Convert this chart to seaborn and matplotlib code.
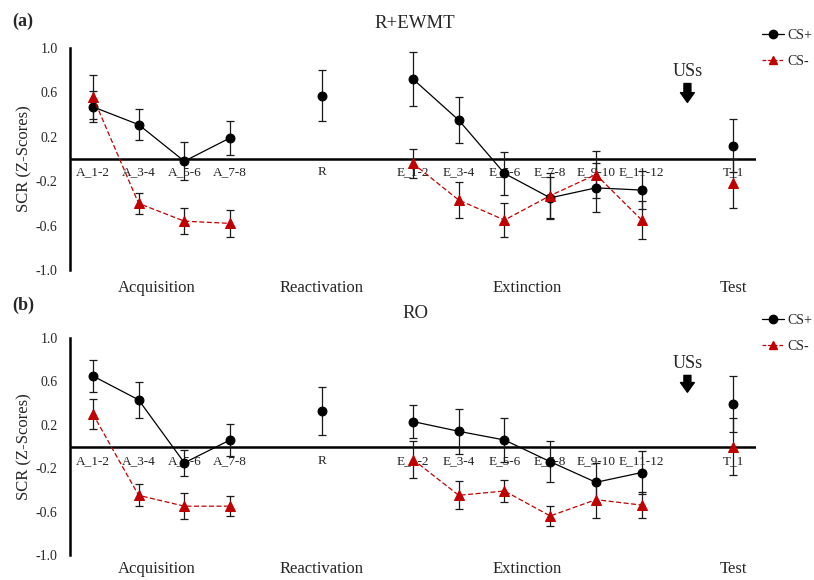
import numpy as np
import pandas as pd
import matplotlib
matplotlib.use("Agg")
import matplotlib.pyplot as plt
from matplotlib.lines import Line2D
import seaborn as sns

nan = np.nan

# x categories (blank slots leave gaps between phases)
categories = ["A_1-2", "A_3-4", "A_5-6", "A_7-8", "", "R", "", "E_1-2", "E_3-4",
              "E_5-6", "E_7-8", "E_9-10", "E_11-12", "", "T_1"]
phase_of = ["Acquisition"] * 4 + [""] + ["Reactivation"] + [""] + ["Extinction"] * 6 + [""] + ["Test"]
phase_names = ["Acquisition", "Reactivation", "Extinction", "Test"]
phase_centers = [1.4, 5, 9.5, 14]
uss_slot = 13

# (a) R+EWMT
a_csp = [0.47, 0.31, -0.02, 0.19, nan, 0.57, nan, 0.72, 0.35, -0.13, -0.35, -0.26, -0.28, nan, 0.12]
a_csp_err = [0.14, 0.14, 0.17, 0.15, nan, 0.23, nan, 0.24, 0.21, 0.19, 0.19, 0.22, 0.17, nan, 0.24]
a_csm = [0.56, -0.40, -0.56, -0.58, nan, nan, nan, -0.04, -0.37, -0.55, -0.33, -0.14, -0.55, nan, -0.22]
a_csm_err = [0.20, 0.095, 0.12, 0.12, nan, nan, nan, 0.13, 0.16, 0.15, 0.20, 0.21, 0.17, nan, 0.22]

# (b) RO
b_csp = [0.65, 0.43, -0.15, 0.06, nan, 0.33, nan, 0.23, 0.14, 0.06, -0.14, -0.33, -0.24, nan, 0.39]
b_csp_err = [0.15, 0.165, 0.12, 0.15, nan, 0.22, nan, 0.15, 0.21, 0.20, 0.19, 0.18, 0.20, nan, 0.26]
b_csm = [0.30, -0.45, -0.55, -0.55, nan, nan, nan, -0.12, -0.45, -0.41, -0.64, -0.49, -0.54, nan, 0.0]
b_csm_err = [0.14, 0.10, 0.12, 0.09, nan, nan, nan, 0.17, 0.13, 0.10, 0.09, 0.17, 0.12, nan, 0.26]

yticks = [-1.0, -0.6, -0.2, 0.2, 0.6, 1.0]

RED = "#C00000"

sns.set_style("white")
plt.rcParams["font.family"] = ["Liberation Serif", "DejaVu Serif"]
plt.rcParams["axes.unicode_minus"] = False


def to_frame(vals, errs):
    df = pd.DataFrame({"pos": np.arange(len(categories)), "val": vals, "err": errs, "phase": phase_of})
    return df.dropna(subset=["val"])


def draw_panel(ax, csp, csp_err, csm, csm_err, cat_off, phase_y, uss_y, arrow_y):
    dp = to_frame(csp, csp_err)
    dm = to_frame(csm, csm_err)

    for d in (dp, dm):
        ax.errorbar(d["pos"], d["val"], yerr=d["err"], fmt="none", ecolor="#1a1a1a",
                    elinewidth=0.9, capsize=2.8, capthick=0.9, zorder=3, clip_on=False)

    sns.lineplot(data=dp, x="pos", y="val", units="phase", estimator=None, sort=False,
                 color="black", lw=0.9, marker="o", markersize=6.4, markeredgecolor="black",
                 legend=False, ax=ax, zorder=4)
    sns.lineplot(data=dm, x="pos", y="val", units="phase", estimator=None, sort=False,
                 color=RED, lw=0.9, linestyle=(0, (4, 2)), marker="^", markersize=6.5,
                 markeredgecolor=RED, legend=False, ax=ax, zorder=5)

    ax.axhline(0, color="black", lw=1.8, zorder=2)
    ax.set_xlim(-0.5, len(categories) - 0.5)
    ax.set_ylim(-1, 1)
    ax.set_yticks(yticks)
    ax.set_yticklabels([f"{t:.1f}" for t in yticks], fontsize=10)
    ax.tick_params(axis="y", length=0, pad=9)
    ax.set_xticks([])
    ax.set_xlabel("")
    ax.set_ylabel("SCR (Z-Scores)", fontsize=12, labelpad=2)
    for s in ["top", "right", "bottom"]:
        ax.spines[s].set_visible(False)
    ax.spines["left"].set_linewidth(1.8)
    ax.spines["left"].set_color("black")

    for i, lab in enumerate(categories):
        if lab:
            ax.annotate(lab, (i, 0), xytext=(0, cat_off), textcoords="offset points",
                        ha="center", va="center", fontsize=9.5, color="#222222")
    for name, cx in zip(phase_names, phase_centers):
        ax.text(cx, phase_y, name, transform=ax.get_xaxis_transform(),
                ha="center", va="center", fontsize=12)

    ax.text(uss_slot, uss_y, "USs", ha="center", va="center", fontsize=13)
    ax.annotate("", xy=(uss_slot, arrow_y[1]), xytext=(uss_slot, arrow_y[0]),
                arrowprops=dict(arrowstyle="simple,head_length=0.7,head_width=1.0,tail_width=0.5",
                                color="black", shrinkA=0, shrinkB=0))


fig = plt.figure(figsize=(8.14, 5.8), dpi=100)
ax_a = fig.add_axes([70 / 814, 1 - 270 / 580, 686 / 814, 222 / 580])
ax_b = fig.add_axes([70 / 814, 1 - 555 / 580, 686 / 814, 217 / 580])

draw_panel(ax_a, a_csp, a_csp_err, a_csm, a_csm_err, -9.5, -0.08, 0.79, (0.68, 0.51))
draw_panel(ax_b, b_csp, b_csp_err, b_csm, b_csm_err, -10.5, -0.065, 0.765, (0.655, 0.50))

fig.text(12 / 814, 1 - 21 / 580, "(a)", fontsize=13, fontweight="bold", va="center", ha="left")
fig.text(12 / 814, 1 - 305 / 580, "(b)", fontsize=13, fontweight="bold", va="center", ha="left")
fig.text(415 / 814, 1 - 24 / 580, "R+EWMT", fontsize=13.5, ha="center", va="center")
fig.text(415 / 814, 1 - 313 / 580, "RO", fontsize=13.5, ha="center", va="center")

handles = [
    Line2D([], [], color="black", lw=0.9, marker="o", markersize=6),
    Line2D([], [], color=RED, lw=0.9, linestyle=(0, (3, 1.5)), marker="^", markersize=6),
]
for yy in (1 - 29 / 580, 1 - 314 / 580):
    fig.legend(handles, ["CS+", "CS-"], loc="upper left", bbox_to_anchor=(762 / 814, yy),
               frameon=False, fontsize=10, handlelength=1.6, handletextpad=0.25,
               labelspacing=0.95, borderaxespad=0, borderpad=0)

fig.savefig("out.png", dpi=100)
